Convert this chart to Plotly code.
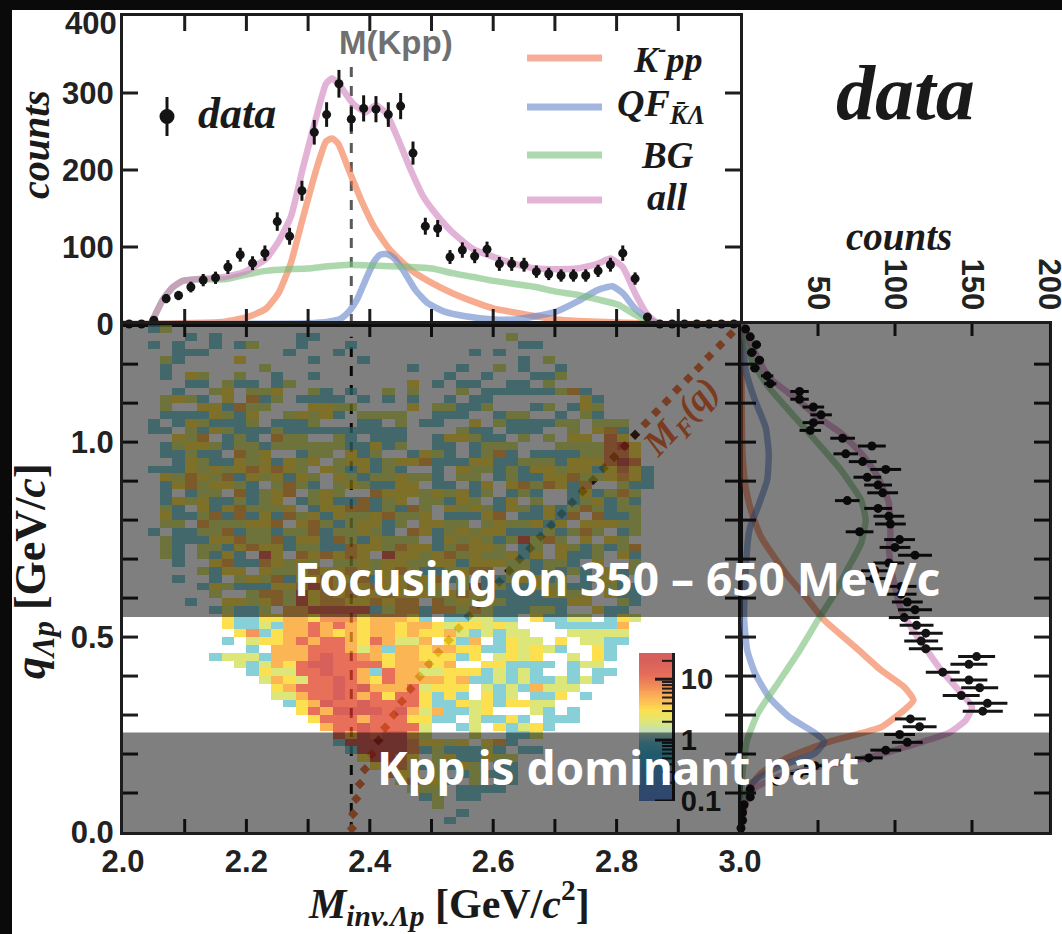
import math
import numpy as np
import plotly.graph_objects as go

W, H = 1062, 934
INK = "#1d1d1d"

# ---------- top panel: M_inv projection ----------
mass_bins = [round(2.01 + 0.02 * i, 2) for i in range(50)]
mass_counts = [0,0,5,33,37,48,57,60,74,90,79,92,133,114,173,249,272,312,266,280,
               279,272,283,222,127,124,87,96,88,97,78,78,77,68,65,63,63,63,69,77,
               92,59,9,0,0,0,0,0,0,0]
mass_errors = [0,0,2,6,6,7,8,8,9,9,9,10,12,11,13,16,16,18,16,17,
               17,16,17,15,11,11,9,10,9,10,9,9,9,8,8,8,8,8,8,9,
               10,8,3,0,0,0,0,0,0,0]

all_m = [2.0,2.044,2.051,2.064,2.081,2.097,2.131,2.165,2.198,2.232,2.252,2.272,2.292,2.313,2.329,2.339,2.353,2.373,2.393,2.41,2.427,2.447,2.467,2.487,2.507,2.534,2.568,2.601,2.635,2.669,2.702,2.736,2.769,2.79,2.81,2.83,2.85,2.87,3.0]
all_c = [0,0,10,31,48,56,59,61,68,85,107,139,204,268,312,319,308,286,275,284,273,238,199,165,143,119,97,87,78,72,71,72,78,85,74,40,12,0,0]
kpp_m = [2.0,2.165,2.205,2.232,2.252,2.272,2.292,2.313,2.329,2.339,2.349,2.366,2.386,2.407,2.433,2.467,2.501,2.534,2.568,2.601,2.635,2.669,2.702,2.736,2.803,2.87,3.0]
kpp_c = [0,3,10,20,40,79,139,200,237,241,234,200,161,126,96,70,53,40,29,20,15,10,6,4,2,0,0]
qf_m = [2.0,2.3,2.333,2.353,2.366,2.38,2.393,2.407,2.417,2.427,2.437,2.454,2.474,2.494,2.521,2.555,2.601,2.635,2.669,2.702,2.736,2.769,2.793,2.81,2.83,2.85,2.87,3.0]
qf_c = [0,1,3,7,16,33,57,81,90,91,87,70,44,27,16,10,6,6,10,16,29,44,49,40,20,7,0,0]
bg_m = [2.0,2.044,2.051,2.064,2.081,2.097,2.131,2.165,2.198,2.232,2.265,2.299,2.333,2.366,2.4,2.433,2.467,2.501,2.534,2.568,2.601,2.635,2.669,2.702,2.736,2.769,2.803,2.83,2.85,2.87,3.0]
bg_c = [0,0,10,31,48,56,58,58,64,69,71,72,75,77,76,75,74,72,66,61,56,52,48,42,38,32,25,12,4,0,0]

# ---------- right panel: q projection ----------
q_bins = [round(1.29 - 0.02 * i, 2) for i in range(65)]
q_counts = [3,6,10,7,12,9,17,19,38,38,47,52,47,45,66,85,68,79,94,82,89,92,69,89,96,97,77,103,100,
            113,96,87,86,104,104,108,113,106,114,120,117,120,153,148,131,148,155,143,160,157,110,
            116,103,108,94,83,48,38,23,6,6,2,1,1,0]
q_errors = [2,2,3,3,3,3,4,4,6,6,7,7,7,7,8,9,8,9,10,9,9,10,8,9,10,10,9,10,10,
            11,10,9,9,10,10,10,11,10,11,11,11,11,12,12,11,12,12,12,13,13,10,
            11,10,10,10,9,7,6,5,2,2,1,1,1,0]

all_q = [1.305,1.254,1.167,1.108,1.064,1.023,.962,.910,.844,.757,.731,.664,.569,.510,.459,.415,.356,.321,.287,.254,.228,.192,.167,.141,.113,.074,.005]
all_v = [0,6,18,37,50,65,80,89,96,97,96,98,104,113,122,130,143,150,146,135,115,83,50,24,9,3,0]
bg_q = [1.305,1.21,1.141,1.064,.997,.928,.851,.80,.757,.74,.68,.613,.544,.459,.382,.305,.236,.151,.005]
bg_v = [0,7,18,35,50,65,78,81,79,78,70,61,50,37,24,11,4,1,0]
qf_q = [1.305,1.185,1.108,1.038,.971,.903,.834,.783,.749,.664,.552,.467,.408,.347,.296,.254,.232,.202,.167,.126,.065,.005]
qf_v = [0,3,9,16,18,17,11,6,4.5,3,2,4,9,18,31,48,54,48,24,7,1,0]
kpp_q = [1.305,.971,.885,.818,.757,.664,.603,.544,.475,.415,.372,.338,.313,.269,.231,.192,.151,.108,.038,0]
kpp_v = [0,1,3,7,13,29,42,54,74,91,106,112,106,91,57,31,13,5,0,0]

# ---------- M_F(q) boundary ----------
mf_mass = [2.371,2.373,2.378,2.384,2.392,2.403,2.414,2.425,2.439,2.452,2.466,2.481,2.496,2.511,2.528,2.544,2.560,2.576,2.593,2.610,2.626,2.643,2.660,2.677,2.694,2.711,2.728,2.745,2.762,2.779,2.796,2.813,2.830,2.847,2.864,2.881,2.898,2.916,2.933,2.950,2.968,2.985]
mf_q = [.009,.046,.085,.123,.161,.199,.235,.268,.301,.335,.367,.399,.431,.461,.492,.523,.554,.584,.612,.642,.670,.700,.728,.758,.787,.816,.845,.874,.903,.933,.962,.990,1.019,1.048,1.077,1.105,1.135,1.163,1.191,1.22,1.249,1.277]

# ---------- tick positions ----------
mass_ticks = [2.1, 2.2, 2.3, 2.4, 2.5, 2.6, 2.7, 2.8, 2.9]
q_ticks = [0.1, 0.2, 0.3, 0.4, 0.5, 0.6, 0.7, 0.8, 0.9, 1.0, 1.1, 1.2]
count_ticks_top = [100, 200, 300]
count_ticks_right = [50, 100, 150]
key_major = [0.1, 1, 10]
key_minor = [0.2, 0.3, 0.4, 0.5, 0.6, 0.7, 0.8, 0.9, 2, 3, 4, 5, 6, 7, 8, 9, 20]

# ---------- 2D histogram: one row per q bin from the top, one digit per mass bin ----------
level_counts = {"1": 1, "2": 2, "3": 3, "4": 5, "5": 7, "6": 11, "7": 20}
heat_rows = [
"..12",
".....1.1......11...............2",
"..1.1..1.12...1...1.............11",
"....111......1...1..........1.1",
"...21....3.....1...1............1.2",
"...1.......2...........1...1..2.1..1",
"...1.32..2..1..1..........1..1...112",
".....11.211.12.........3.1.11..11.2",
"....1..23.223..21.1..2.2...2.111111241",
"...2321.3.412.1111.1.1.1..1.11.......31",
"...2..331422...3322....3.22112...12.132",
"...11113213..23231.2222..111..122..1.21",
"..1.1321112.1112...11.2.11..3." "2111122.222",
"..11.213211121111111111....211.111..2.341",
"....324.121.422..21.111..133211.2.2.33.53",
"...123321221222222" "11312" "..11.1222...2222563",
"...11211.423..122.312..1321.1241.111122553",
"...." "132113231323" "." "23312334" "111" "3311" "222" "1" "333" "575",
".." "111" "3232343432" "." "3213121" ".." "1" "." "32212133233" "13531",
"..." "3243241323132" "." "321223221" "." "22" "." "1211334223431",
"..." "13423321.2421.2321133.1" "1.13.3424314..211",
"..." "1.122.41234.232" ".." "4333232312" "." "121" ".." "131242",
"..." "1323112123" "." "123114123" "." "22132" "." "13" "." "2" ".." "123121",
"..." "21" "." "31342223" "." "1334412142" "." "3232132131242122",
"..." "3112414131423132234223" "." "11134" "." "11314" "." "4112",
"..." "22" "." "4222334" "." "342123312" "." "3322" "." "2322313" "." "33322",
"..1." "112241221224122321" "." "4312323311121242" "." "12",
"..." "211133422413314213222" "." "13232126242" "." "3" "." "32",
"...21." "2213433122114332433124332" "." "12" "." "3212124",
"...21." "2131" "." "63" "." "434343" "." "6332342322313" "." "3112" "." "31",
"....1.." "341143232" "." "22323322331333221221" "." "3" ".." "2",
"......2133." "3223433432343112344" "." "2312121" "." "312",
"....1..1." "2324133433413323412" "." "1123312" "." "123" "1",
"......" "13211133464343433423" "." "26121132311" "." "211",
"......." "2.." "2442634343343332343211113323" "." "311",
".....1.." "3323426344334344" "." "4232321111133" ".." "21",
"......." "12112" "." "44666661244144242111221" ".." "311",
"........" "31133443555344431" "." "112211" "." "31122" "." "132",
"........" "311214464643443443233232" "..." "11111" "4",
"........." "351344643434434334212122" "..." "22222",
"........1." "233464664364224" "." "314" "." "1322" "." "3" "." "2211",
".........." "1." "444666424144344331132321" ".." "31",
"......." "12221" "44467665434433313" "." "2323" ".." "2" "." "31",
"........." "2124" "36776666344434" ".." "33" "1111" "." "122",
".........." "1322" "66766416442233312121" ".." "1" "." "11",
"..........." "2432" "667643644443411212112121",
"............" "3466676744462333" "." "21214222",
"............" "2246676463663131" "." "312" "." "113" "." "1",
"............." "1347667666631132313322",
".............." "3647777674241123" "..." "21" "." "1",
"..............." "366646663311" "." "21131" "." "111",
"................" "466766662" ".." "12" "." "31231",
"................." "64767742" "..." "2" ".." "112",
"................." "1" "77777" "5" "3323" "." "341",
".................." "1" "7777" "5" "1211121" "." "11",
"..................." "37753" "." "2311322",
"...................." "355312132" "." "11",
"....................." "533" "." "2" "." "12111",
"......................" "35231" "." "2" "." "11",
"......................." "222" "." "1111",
"........................" "12" "." "11",
"........................." "2",
"..........................." "1",
".........................." "1",
"",
]

# colour scale on log10(counts), range 0.1 .. 27
LOG_MIN, LOG_MAX = -1.0, 1.43
scale_stops = [
    (0.1, (45,100,205)), (0.3, (30,125,205)), (0.6, (0,160,205)), (0.95, (60,175,205)),
    (1.0, (95,192,203)), (1.4, (171,214,171)), (2, (210,222,75)), (3, (252,214,22)),
    (5, (250,156,28)), (7, (240,114,35)), (11, (224,64,35)), (20, (203,43,35)), (27, (203,43,35)),
]
colorscale = [[(math.log10(v) - LOG_MIN) / (LOG_MAX - LOG_MIN), "rgb(%d,%d,%d)" % c] for v, c in scale_stops]
colorscale[-1][0] = 1.0
HEAT_ALPHA = 0.75

z = []
for row in reversed(heat_rows):
    padded = row.ljust(50, ".")
    z.append([None if ch == "." else math.log10(level_counts[ch]) for ch in padded])


def fx(px):
    return px / W


def fy(py):
    return 1 - py / H


SALMON = "rgb(243,118,70)"
BLUE = "rgb(100,133,203)"
GREEN = "rgb(120,190,120)"
PINK = "rgb(210,130,190)"
CURVE_ALPHA = 0.6
LW = 6.5

fig = go.Figure()


def curve(x, y, color, xa, ya):
    fig.add_trace(go.Scatter(x=x, y=y, mode="lines", xaxis=xa, yaxis=ya, opacity=CURVE_ALPHA,
                             line=dict(color=color, width=LW, shape="spline", smoothing=0.5),
                             showlegend=False, hoverinfo="skip"))


# top panel
fig.add_trace(go.Scatter(x=[2.37, 2.37], y=[0, 345], mode="lines", xaxis="x", yaxis="y",
                         line=dict(color="#5a5a5a", width=3, dash="10px,9px"), showlegend=False, hoverinfo="skip"))
curve(kpp_m, kpp_c, SALMON, "x", "y")
curve(qf_m, qf_c, BLUE, "x", "y")
curve(bg_m, bg_c, GREEN, "x", "y")
curve(all_m, all_c, PINK, "x", "y")
fig.add_trace(go.Scatter(x=mass_bins, y=mass_counts, mode="markers", xaxis="x", yaxis="y", cliponaxis=False,
                         marker=dict(color="#141414", size=9),
                         error_y=dict(type="data", array=mass_errors, thickness=3, width=0, color="#141414"),
                         showlegend=False, hoverinfo="skip"))

# main panel: guide lines below the translucent histogram
fig.add_trace(go.Scatter(x=[2.37, 2.37], y=[0, 1.27], mode="lines", xaxis="x2", yaxis="y2",
                         line=dict(color="#111111", width=3, dash="10px,9px"), showlegend=False, hoverinfo="skip"))
mf_colors = ["#ee7c48" if (q < 0.2 or q > 1.03) else ("#8a6a30" if 0.26 < q < 0.55 else "#4a2a12") for q in mf_q]
fig.add_trace(go.Scatter(x=mf_mass, y=mf_q, mode="markers", xaxis="x2", yaxis="y2",
                         marker=dict(symbol="diamond", size=8, color=mf_colors),
                         showlegend=False, hoverinfo="skip"))
fig.add_trace(go.Heatmap(z=z, x0=2.01, dx=0.02, y0=0.01, dy=0.02, xaxis="x5", yaxis="y5",
                         zmin=LOG_MIN, zmax=LOG_MAX, colorscale=colorscale, showscale=False,
                         opacity=HEAT_ALPHA, hoverinfo="skip"))

# right panel
curve(kpp_v, kpp_q, SALMON, "x3", "y3")
curve(qf_v, qf_q, BLUE, "x3", "y3")
curve(bg_v, bg_q, GREEN, "x3", "y3")
curve(all_v, all_q, PINK, "x3", "y3")
fig.add_trace(go.Scatter(x=q_counts, y=q_bins, mode="markers", xaxis="x3", yaxis="y3", cliponaxis=False,
                         marker=dict(color="#141414", size=9),
                         error_x=dict(type="data", array=q_errors, thickness=3, width=0, color="#141414"),
                         showlegend=False, hoverinfo="skip"))

# colour key as its own small axis, so the grey bands dim it too
key_levels = np.linspace(LOG_MIN, LOG_MAX, 80)
fig.add_trace(go.Heatmap(z=[[v] for v in key_levels], x=[0], y=key_levels, xaxis="x4", yaxis="y4",
                         zmin=LOG_MIN, zmax=LOG_MAX, colorscale=colorscale, showscale=False,
                         opacity=HEAT_ALPHA, hoverinfo="skip"))

tick_font = dict(family="Liberation Sans", size=31, color="#222222", weight=700)
base_axis = dict(showline=True, linecolor=INK, linewidth=3, mirror=True, showgrid=False, zeroline=False,
                 ticks="outside", ticklen=0, tickwidth=0, tickfont=tick_font, automargin=False,
                 ticklabeloverflow="allow")

QMAX = 1.303
fig.update_layout(
    template="none",
    width=W, height=H, margin=dict(l=0, r=0, t=0, b=0, pad=0), paper_bgcolor="white", plot_bgcolor="rgba(0,0,0,0)",
    showlegend=False,
    xaxis=dict(base_axis, domain=[fx(123), fx(740)], range=[2, 3], anchor="y", dtick=0.2, tick0=2, showticklabels=False),
    yaxis=dict(base_axis, domain=[fy(324), fy(16)], range=[0, 400], anchor="x", tickmode="array",
               tickvals=[0, 100, 200, 300], ticktext=["0", "100", "200", "300"]),
    xaxis2=dict(base_axis, domain=[fx(123), fx(740)], range=[2, 3], anchor="y2", tick0=2, dtick=0.2, tickformat=".1f"),
    yaxis2=dict(base_axis, domain=[fy(832), fy(324)], range=[0, QMAX], anchor="x2", tick0=0, dtick=0.5, tickformat=".1f"),
    xaxis3=dict(base_axis, domain=[fx(741), fx(1049)], range=[0, 200], anchor="y3", side="top", tickmode="array",
                tickvals=[50, 100, 150, 200], ticktext=["50", "100", "150", "200"], tickangle=90),
    yaxis3=dict(base_axis, domain=[fy(832), fy(324)], range=[0, QMAX], anchor="x3", tick0=0, dtick=0.5, showticklabels=False),
    xaxis4=dict(domain=[fx(639), fx(672)], range=[-0.5, 0.5], anchor="y4", visible=False),
    yaxis4=dict(domain=[fy(801), fy(653)], range=[LOG_MIN, LOG_MAX], anchor="x4", side="right", showline=True,
                linecolor=INK, linewidth=3, showgrid=False, zeroline=False, ticks="outside", ticklen=0, tickwidth=0,
                tickmode="array", tickvals=[-1, 0, 1], ticktext=["0.1", "1", "10"], automargin=False,
                tickfont=dict(family="Liberation Sans", size=29, color="#222222", weight=700)),
    xaxis5=dict(overlaying="x2", range=[2, 3], visible=False, anchor="y5"),
    yaxis5=dict(overlaying="y2", range=[0, QMAX], visible=False, anchor="x5"),
)

shapes = [
    dict(type="rect", xref="paper", yref="paper", x0=0, x1=1, y0=fy(10), y1=1, fillcolor="#0a0a0a", line_width=0, layer="below"),
    dict(type="rect", xref="paper", yref="paper", x0=0, x1=fx(12), y0=0, y1=1, fillcolor="#0a0a0a", line_width=0, layer="below"),
]


def xticks(vals, xref, py_bottom, py_top, length=14):
    for v in vals:
        for py, sign in ((py_bottom, -1), (py_top, 1)):
            shapes.append(dict(type="line", xref=xref, yref="paper", x0=v, x1=v, y0=fy(py), y1=fy(py + sign * length),
                               line=dict(color=INK, width=3), layer="above"))


def yticks(vals, yref, px_left, px_right, length=15):
    for v in vals:
        for px, sign in ((px_left, 1), (px_right, -1)):
            shapes.append(dict(type="line", xref="paper", yref=yref, y0=v, y1=v, x0=fx(px), x1=fx(px + sign * length),
                               line=dict(color=INK, width=3), layer="above"))


xticks(mass_ticks, "x", 324, 16, 15)
yticks(count_ticks_top, "y", 123, 740)
xticks(mass_ticks, "x2", 832, 324, 13)
yticks(q_ticks, "y2", 123, 740)
xticks(count_ticks_right, "x3", 832, 324, 12)
yticks(q_ticks, "y3", 741, 1049)
for v, length, width in [(k, 17, 3) for k in key_major] + [(k, 10, 2) for k in key_minor]:
    shapes.append(dict(type="line", xref="paper", yref="y4", y0=math.log10(v), y1=math.log10(v),
                       x0=fx(672), x1=fx(672 - length), line=dict(color=INK, width=width), layer="above"))

shapes += [
    dict(type="rect", xref="paper", yref="paper", x0=fx(123), x1=fx(1050), y0=fy(617), y1=fy(324), fillcolor="rgba(0,0,0,0.5)", line_width=0, layer="above"),
    dict(type="rect", xref="paper", yref="paper", x0=fx(123), x1=fx(1050), y0=fy(832), y1=fy(732.5), fillcolor="rgba(0,0,0,0.5)", line_width=0, layer="above"),
]
# key lines drawn by hand in the reference
for py, col in [(58, "#f8ad9b"), (107, "#a2b6e0"), (155, "#aed8ae"), (200, "#e4b4d8")]:
    shapes.append(dict(type="line", xref="paper", yref="paper", x0=fx(527), x1=fx(602), y0=fy(py), y1=fy(py),
                       line=dict(color=col, width=7), layer="above"))
shapes.append(dict(type="line", xref="paper", yref="paper", x0=fx(167), x1=fx(167), y0=fy(97), y1=fy(136),
                   line=dict(color="#141414", width=3), layer="above"))
shapes.append(dict(type="circle", xref="paper", yref="paper", x0=fx(159.5), x1=fx(174.5), y0=fy(124), y1=fy(109),
                   fillcolor="#141414", line_width=0, layer="above"))
fig.update_layout(shapes=shapes)

SERIF = "Liberation Serif"


def ann(px, py, text, size, family=SERIF, color="#1a1a1a", angle=0, weight=700, anchor="center"):
    fig.add_annotation(x=fx(px), y=fy(py), xref="paper", yref="paper", text=text, showarrow=False,
                       xanchor=anchor, yanchor="middle", textangle=angle,
                       font=dict(family=family, size=size, color=color, weight=weight))


ann(119, 24, "400", 31, family="Liberation Sans", color="#222222", anchor="right")
ann(396, 42, "M(Kpp)", 33, family="Liberation Sans", color="#707070")
ann(237, 113, "<i>data</i>", 44)
ann(905, 93, "<i>data</i>", 78)
ann(667, 57, "<i>K<sup>-</sup>pp</i>", 36)
ann(661, 106, "<i>QF<sub>K\u0304\u039b</sub></i>", 38)
ann(667, 155, "<i>BG</i>", 37)
ann(667, 197, "<i>all</i>", 38)
ann(35, 145, "<i>counts</i>", 40, angle=-90)
ann(899, 236, "<i>counts</i>", 39)
ann(33, 571, "<i>q<sub>\u039bp</sub></i> [GeV/<i>c</i>]", 44, angle=-90)
ann(449, 903, "<i>M<sub>inv.\u039bp</sub></i> [GeV/<i>c</i><sup>2</sup>]", 42)
ann(682, 418, "<i>M<sub>F</sub>(q)</i>", 36, color="#7a3b20", angle=-47)
ann(617, 578, "Focusing on 350 \u2013 650 MeV/c", 46, family="Noto Sans", color="white")
ann(618, 767, "Kpp is dominant part", 46, family="Noto Sans", color="white")

fig.write_html("out.html", post_script="document.body.style.margin='0';", config={"displayModeBar": False})
